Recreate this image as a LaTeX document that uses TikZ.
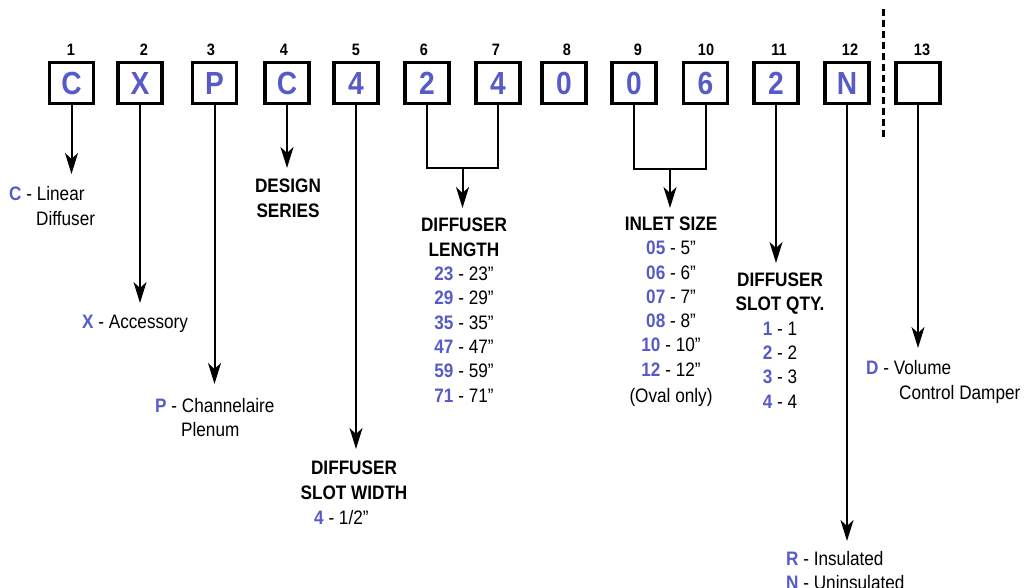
\documentclass[tikz,border=0pt]{standalone}
\usepackage{fontspec}
\setmainfont{Liberation Sans}[FakeStretch=0.88]
\usetikzlibrary{arrows.meta}
\definecolor{blu}{RGB}{87,91,199}
\newcommand{\bl}[1]{\textcolor{blu}{\bfseries #1}}
\begin{document}
\begin{tikzpicture}[x=1pt,y=-1pt,
  codebox/.style={draw,line width=3.2pt,minimum width=44pt,minimum height=41pt,inner sep=0pt,
    font=\fontsize{32}{32}\selectfont\bfseries,text=blu},
  numlbl/.style={anchor=base,inner sep=0pt,font=\fontsize{16.5}{18}\selectfont\bfseries},
  txt/.style={anchor=base west,inner sep=0pt,font=\fontsize{19.5}{24.3}\selectfont},
  ctxt/.style={anchor=base,inner sep=0pt,align=center,font=\fontsize{19.5}{24.3}\selectfont},
  arr/.style={line width=2pt,-{Stealth[length=21pt,width=13pt,inset=6pt]}},
  brk/.style={line width=2pt}]
\useasboundingbox (0,0) rectangle (1024,588);
% boxes
\node[codebox] (b1) at (71.5,83) {C};
\node[codebox] (b2) at (140,83) {X};
\node[codebox] (b3) at (214.5,83) {P};
\node[codebox] (b4) at (287,83) {C};
\node[codebox] (b5) at (356,83) {4};
\node[codebox] (b6) at (427,83) {2};
\node[codebox] (b7) at (498,83) {4};
\node[codebox] (b8) at (564,83) {0};
\node[codebox] (b9) at (634,83) {0};
\node[codebox] (b10) at (705.5,83) {6};
\node[codebox] (b11) at (776,83) {2};
\node[codebox] (b12) at (847,83) {N};
\node[codebox] (b13) at (918,83) {};
% numbers
\node[numlbl] (n1) at (71,56) {1};
\node[numlbl] (n2) at (144,56) {2};
\node[numlbl] (n3) at (211,56) {3};
\node[numlbl] (n4) at (284,56) {4};
\node[numlbl] (n5) at (356,56) {5};
\node[numlbl] (n6) at (424,56) {6};
\node[numlbl] (n7) at (496,56) {7};
\node[numlbl] (n8) at (567,56) {8};
\node[numlbl] (n9) at (638,56) {9};
\node[numlbl] (n10) at (706,56) {10};
\node[numlbl] (n11) at (779,56) {11};
\node[numlbl] (n12) at (850,56) {12};
\node[numlbl] (n13) at (922,56) {13};
% dashed separator
\coordinate (d1) at (883,9);
\coordinate (d2) at (883,137);
\draw[line width=3pt,dash pattern=on 7pt off 4pt] (d1) -- (d2);
% arrow ends
\coordinate (t1) at (71.5,174);
\coordinate (t2) at (140,303);
\coordinate (t3) at (214.5,384);
\coordinate (t4) at (287,168);
\coordinate (t5) at (356,449);
\coordinate (j67) at (462.5,168);
\coordinate (t67) at (462.5,208);
\coordinate (j910) at (670,169);
\coordinate (t910) at (670,208);
\coordinate (t11) at (776,263);
\coordinate (t12) at (847,541);
\coordinate (t13) at (918,348);
\draw[arr] (b1.south) -- (t1);
\draw[arr] (b2.south) -- (t2);
\draw[arr] (b3.south) -- (t3);
\draw[arr] (b4.south) -- (t4);
\draw[arr] (b5.south) -- (t5);
\draw[brk] (b6.south) |- (j67) -| (b7.south);
\draw[arr] (j67) -- (t67);
\draw[brk] (b9.south) |- (j910) -| (b10.south);
\draw[arr] (j910) -- (t910);
\draw[arr] (b11.south) -- (t11);
\draw[arr] (b12.south) -- (t12);
\draw[arr] (b13.south) -- (t13);
% texts
\node[txt] (c1a) at (9,200) {\bl{C} - Linear};
\node[txt] (c1b) at (36,225) {Diffuser};
\node[txt] (c2) at (82,328) {\bl{X} - Accessory};
\node[txt] (c3a) at (155,412) {\bl{P} - Channelaire};
\node[txt] (c3b) at (181,436) {Plenum};
\node[ctxt] (c4) at (288,217) {\bfseries DESIGN\\\bfseries SERIES};
\node[ctxt] (c5) at (354,499) {\bfseries DIFFUSER\\\bfseries SLOT WIDTH};
\node[txt] (c5b) at (314,524) {\bl{4} - 1/2”};
\node[ctxt] (c67) at (464,402) {\bfseries DIFFUSER\\\bfseries LENGTH\\
  \bl{23} - 23”\\\bl{29} - 29”\\\bl{35} - 35”\\\bl{47} - 47”\\\bl{59} - 59”\\\bl{71} - 71”};
\node[ctxt] (c910) at (671,402) {\bfseries INLET SIZE\\
  \bl{05} - 5”\\\bl{06} - 6”\\\bl{07} - 7”\\\bl{08} - 8”\\\bl{10} - 10”\\\bl{12} - 12”\\[1.5pt](Oval only)};
\node[ctxt] (c11) at (780,408) {\bfseries DIFFUSER\\\bfseries SLOT QTY.\\
  \bl{1} - 1\\\bl{2} - 2\\\bl{3} - 3\\\bl{4} - 4};
\node[txt] (c12a) at (786,565) {\bl{R} - Insulated};
\node[txt] (c12b) at (786,589) {\bl{N} - Uninsulated};
\node[txt] (c13a) at (866,374) {\bl{D} - Volume};
\node[txt] (c13b) at (899,399) {Control Damper};
\end{tikzpicture}
\end{document}
